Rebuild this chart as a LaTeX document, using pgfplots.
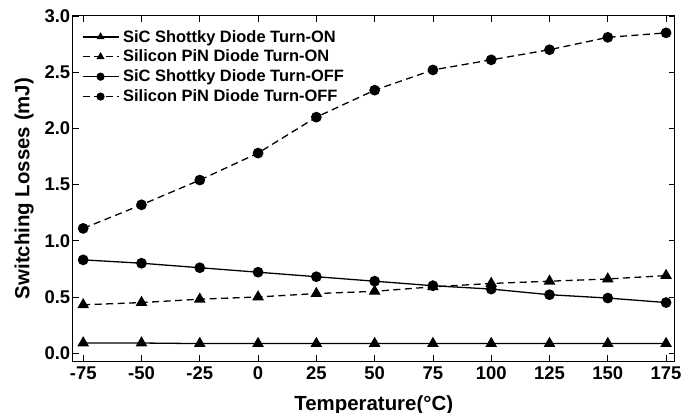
\documentclass[border=0pt]{standalone}
\usepackage{pgfplots}
\pgfplotsset{compat=1.18}
\usetikzlibrary{calc}
\usepackage{fontspec}
\setmainfont{Liberation Sans}
\begin{document}
\begin{tikzpicture}[x=1bp,y=1bp]
\begin{axis}[
  name=ax,
  scale only axis,
  width=602bp, height=345bp,
  xmin=-79.5, xmax=178.7,
  ymin=-0.07, ymax=3.0,
  xtick={-75,-50,-25,0,25,50,75,100,125,150,175},
  ytick={0,0.5,1,1.5,2,2.5,3},
  yticklabel style={xshift=1bp, /pgf/number format/.cd,fixed,fixed zerofill,precision=1},
  /pgf/number format/assume math mode=true,
  tick label style={font=\bfseries\fontsize{18.5}{20}\selectfont},
  label style={font=\bfseries\fontsize{20.5}{22}\selectfont},
  xlabel={Temperature(°C)},
  ylabel={Switching Losses (mJ)},
  xlabel style={yshift=-9bp},
  ylabel style={yshift=4bp},
  xticklabel style={yshift=-2bp},
  tick style={black, line width=0.8pt},
  major tick length=6bp,
  axis line style={line width=1pt},
  legend style={draw=none, fill=none, at={(0,1)}, anchor=north west,
    xshift=8bp, yshift=-11bp,
    font=\bfseries\fontsize{16.5}{18}\selectfont, row sep=2.5bp, inner sep=1bp,
    nodes={inner xsep=4bp}},
  legend cell align=left,
  every axis plot/.append style={black, line width=1.3pt},
  legend image code/.code={
    \draw[mark repeat=2,mark phase=2,mark size=3.4bp,#1]
      plot coordinates {(0bp,0bp) (18bp,0bp) (36bp,0bp)};
  },
]
\addplot[mark=triangle*, mark size=5.5bp] coordinates {
(-75,0.09) (-50,0.09) (-25,0.085) (0,0.085) (25,0.085) (50,0.085) (75,0.085) (100,0.085) (125,0.085) (150,0.085) (175,0.085)};
\addlegendentry{SiC Shottky Diode Turn-ON}
\addplot[dash pattern=on 7bp off 4.5bp, mark=triangle*, mark size=5.5bp, mark options={solid}] coordinates {
(-75,0.43) (-50,0.45) (-25,0.48) (0,0.50) (25,0.53) (50,0.55) (75,0.59) (100,0.62) (125,0.64) (150,0.66) (175,0.69)};
\addlegendentry{Silicon PiN Diode Turn-ON}
\addplot[mark=*, mark size=4.7bp] coordinates {
(-75,0.83) (-50,0.80) (-25,0.76) (0,0.72) (25,0.68) (50,0.64) (75,0.60) (100,0.57) (125,0.52) (150,0.49) (175,0.45)};
\addlegendentry{SiC Shottky Diode Turn-OFF}
\addplot[dash pattern=on 7bp off 4.5bp, mark=*, mark size=4.7bp, mark options={solid}] coordinates {
(-75,1.11) (-50,1.32) (-25,1.54) (0,1.78) (25,2.10) (50,2.34) (75,2.52) (100,2.61) (125,2.70) (150,2.81) (175,2.85)};
\addlegendentry{Silicon PiN Diode Turn-OFF}
\end{axis}
\pgfresetboundingbox
\useasboundingbox ($(ax.south west)+(-72.7bp,-52bp)$) rectangle ($(ax.north east)+(8.3bp,16bp)$);
\end{tikzpicture}
\end{document}
